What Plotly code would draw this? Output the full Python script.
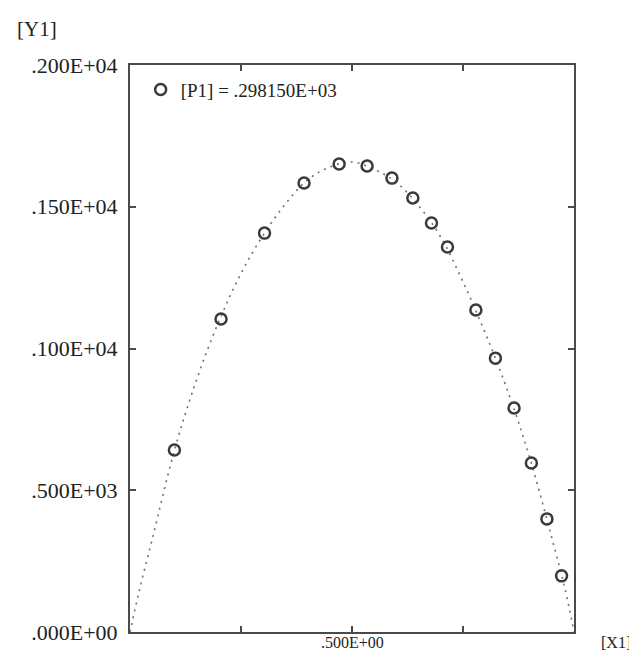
import plotly.graph_objects as go

# measured points (P1 = 298.15)
pt_x = [0.100, 0.205, 0.303, 0.392, 0.471, 0.534, 0.590, 0.637, 0.679, 0.715,
        0.779, 0.823, 0.865, 0.904, 0.939, 0.972]
pt_y = [642, 1104, 1407, 1584, 1651, 1644, 1601, 1531, 1443, 1358,
        1136, 966, 790, 596, 399, 198]

# fitted dotted curve
curve_x = [0.0, 0.02, 0.05, 0.10, 0.15, 0.20, 0.25, 0.30, 0.35, 0.40, 0.45, 0.50,
           0.55, 0.60, 0.65, 0.70, 0.75, 0.80, 0.85, 0.90, 0.95, 0.98, 1.0]
curve_y = [0, 140, 327, 640, 890, 1095, 1265, 1400, 1510, 1595, 1640, 1658,
           1632, 1586, 1504, 1393, 1235, 1055, 853, 616, 332, 150, 0]

y_tickvals = [0, 500, 1000, 1500, 2000]
y_ticktext = [".000E+00", ".500E+03", ".100E+04", ".150E+04", ".200E+04"]
x_tickvals = [0, 0.25, 0.5, 0.75, 1.0]
x_label_value = 0.5
x_label_text = ".500E+00"

legend_label = "[P1] = .298150E+03"

FONT = "Liberation Serif"
INK = "#222222"

fig = go.Figure()
fig.add_trace(go.Scatter(
    x=curve_x, y=curve_y, mode="lines", showlegend=False,
    line=dict(color="#707070", width=1.6, dash="2px,5px", shape="spline"),
))
fig.add_trace(go.Scatter(
    x=pt_x, y=pt_y, mode="markers", name=legend_label,
    marker=dict(symbol="circle-open", size=11, color="#3a3a3a",
                line=dict(width=2.5, color="#3a3a3a")),
))

axis_common = dict(
    showgrid=False, zeroline=False, showline=True, linecolor="#4a4a4a",
    linewidth=2, mirror="ticks", ticks="inside", ticklen=6, tickwidth=2,
    tickcolor="#4a4a4a", automargin=False,
)

fig.update_xaxes(range=[0, 1], tickmode="array", tickvals=x_tickvals,
                 showticklabels=False, **axis_common)
fig.update_yaxes(range=[0, 2000], tickmode="array", tickvals=y_tickvals,
                 ticktext=y_ticktext, ticklabelstandoff=6,
                 tickfont=dict(family=FONT, size=22, color=INK), **axis_common)

# x-axis label at the 0.5 tick (bottom of the page is tight)
fig.add_annotation(text=x_label_text, xref="x", yref="paper",
                   x=x_label_value, y=-0.0353, xanchor="center", yanchor="bottom",
                   borderpad=0, showarrow=False,
                   font=dict(family=FONT, size=16, color=INK))
fig.add_annotation(text="[Y1]", xref="paper", yref="paper",
                   x=-0.26, y=1.063, xanchor="left", yanchor="middle",
                   showarrow=False, font=dict(family=FONT, size=21, color=INK))
fig.add_annotation(text="[X1]", xref="paper", yref="paper",
                   x=1.058, y=-0.0353, xanchor="left", yanchor="bottom",
                   borderpad=0, showarrow=False,
                   font=dict(family=FONT, size=16, color=INK))

# the page body adds an 8px offset, so the figure is sized to the remaining area
fig.update_layout(
    width=629, height=644,
    margin=dict(l=122, r=63, t=57, b=20),
    paper_bgcolor="white", plot_bgcolor="white",
    showlegend=True,
    legend=dict(x=0.024, y=0.99, xanchor="left", yanchor="top",
                bgcolor="rgba(0,0,0,0)",
                font=dict(family=FONT, size=19, color=INK)),
)

fig.write_html("out.html")
